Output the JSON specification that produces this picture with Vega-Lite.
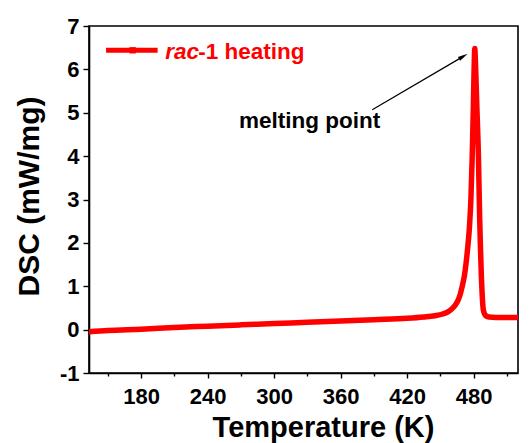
{
  "$schema": "https://vega.github.io/schema/vega-lite/v6.json",
  "width": 429,
  "height": 347,
  "autosize": {"type": "none"},
  "padding": {"left": 89, "top": 26, "right": 13, "bottom": 70},
  "background": "white",
  "config": {
    "font": "Liberation Sans",
    "view": {"stroke": "black", "strokeWidth": 1.6},
    "axis": {
      "domainColor": "black", "domainWidth": 1.6, "tickColor": "black", "tickWidth": 1.4,
      "labelFont": "Liberation Sans", "labelFontWeight": "bold", "labelColor": "black",
      "titleFont": "Liberation Sans", "titleFontWeight": "bold", "titleColor": "black",
      "grid": false
    }
  },
  "data": {
    "values": [
      {"T": 133, "DSC": -0.05}, {"T": 150, "DSC": -0.02}, {"T": 180, "DSC": 0.01},
      {"T": 210, "DSC": 0.05}, {"T": 240, "DSC": 0.08}, {"T": 270, "DSC": 0.11},
      {"T": 300, "DSC": 0.14}, {"T": 330, "DSC": 0.17}, {"T": 360, "DSC": 0.2},
      {"T": 390, "DSC": 0.23}, {"T": 420, "DSC": 0.26}, {"T": 435, "DSC": 0.29},
      {"T": 445, "DSC": 0.32}, {"T": 452, "DSC": 0.36}, {"T": 458, "DSC": 0.43},
      {"T": 462, "DSC": 0.52}, {"T": 465, "DSC": 0.63}, {"T": 467.5, "DSC": 0.78},
      {"T": 469.5, "DSC": 0.98}, {"T": 471.7, "DSC": 1.25}, {"T": 474.4, "DSC": 1.83},
      {"T": 476.3, "DSC": 2.4}, {"T": 477.5, "DSC": 3.0}, {"T": 478.6, "DSC": 3.9},
      {"T": 479.6, "DSC": 5.0}, {"T": 480.4, "DSC": 6.0}, {"T": 481, "DSC": 6.48},
      {"T": 481.7, "DSC": 6.1}, {"T": 482.8, "DSC": 5.2}, {"T": 484.3, "DSC": 4.0},
      {"T": 485.4, "DSC": 2.6}, {"T": 486.2, "DSC": 1.83}, {"T": 487.0, "DSC": 1.2},
      {"T": 487.7, "DSC": 0.8}, {"T": 488.5, "DSC": 0.5}, {"T": 489.5, "DSC": 0.38},
      {"T": 491, "DSC": 0.32}, {"T": 494, "DSC": 0.29}, {"T": 500, "DSC": 0.28},
      {"T": 520, "DSC": 0.28}
    ]
  },
  "layer": [
    {
      "mark": {"type": "line", "color": "#ff0000", "strokeWidth": 5.5, "interpolate": "monotone", "clip": true},
      "encoding": {
        "x": {
          "field": "T", "type": "quantitative",
          "scale": {"domain": [133, 520], "nice": false, "zero": false},
          "axis": {
            "title": "Temperature (K)", "titleFontSize": 29,
            "titleX": 234, "titleY": 63, "titleBaseline": "alphabetic", "titleAlign": "center",
            "values": [150, 180, 210, 240, 270, 300, 330, 360, 390, 420, 450, 480, 510],
            "tickCount": 30,
            "labelExpr": "datum.value % 60 == 0 ? '' + datum.value : ''",
            "labelOverlap": false,
            "labelFontSize": 22, "labelPadding": 8,
            "tickSize": {"condition": {"test": "datum.value % 60 == 0", "value": 5}, "value": 3}
          }
        },
        "y": {
          "field": "DSC", "type": "quantitative",
          "scale": {"domain": [-1, 7], "nice": false, "zero": false},
          "axis": {
            "title": "DSC (mW/mg)", "titleFontSize": 30,
            "titleX": -45, "titleY": 170, "titleAngle": 270, "titleBaseline": "bottom", "titleAlign": "center",
            "values": [-1, 0, 1, 2, 3, 4, 5, 6, 7],
            "tickCount": 20,
            "labelExpr": "'' + datum.value",
            "labelOverlap": false,
            "labelFontSize": 22, "labelPadding": 4, "tickSize": 6
          }
        }
      }
    },
    {
      "data": {"values": [{}]},
      "mark": {"type": "rule", "color": "#ff0000", "strokeWidth": 5},
      "encoding": {
        "x": {"datum": 148.4, "type": "quantitative"},
        "x2": {"datum": 194.9},
        "y": {"datum": 6.44, "type": "quantitative"}
      }
    },
    {
      "data": {"values": [{}]},
      "mark": {"type": "point", "shape": "square", "filled": true, "color": "#ff0000", "size": 40, "opacity": 1},
      "encoding": {
        "x": {"datum": 172.4, "type": "quantitative"},
        "y": {"datum": 6.44, "type": "quantitative"}
      }
    },
    {
      "data": {"values": [{}]},
      "mark": {"type": "text", "color": "#ff0000", "font": "Liberation Sans", "fontWeight": "bold", "fontStyle": "italic", "fontSize": 22.5, "align": "left", "baseline": "alphabetic"},
      "encoding": {
        "x": {"datum": 201.8, "type": "quantitative"},
        "y": {"datum": 6.25, "type": "quantitative"},
        "text": {"value": "rac"}
      }
    },
    {
      "data": {"values": [{}]},
      "mark": {"type": "text", "color": "#ff0000", "font": "Liberation Sans", "fontWeight": "bold", "fontSize": 22.5, "align": "left", "baseline": "alphabetic"},
      "encoding": {
        "x": {"datum": 231.5, "type": "quantitative"},
        "y": {"datum": 6.25, "type": "quantitative"},
        "text": {"value": "-1 heating"}
      }
    },
    {
      "data": {"values": [{}]},
      "mark": {"type": "text", "color": "black", "font": "Liberation Sans", "fontWeight": "bold", "fontSize": 22.5, "align": "center", "baseline": "alphabetic"},
      "encoding": {
        "x": {"datum": 332.1, "type": "quantitative"},
        "y": {"datum": 4.65, "type": "quantitative"},
        "text": {"value": "melting point"}
      }
    },
    {
      "data": {"values": [{}]},
      "mark": {"type": "rule", "color": "black", "strokeWidth": 1.2},
      "encoding": {
        "x": {"datum": 388.5, "type": "quantitative"},
        "x2": {"datum": 470.7},
        "y": {"datum": 5.07, "type": "quantitative"},
        "y2": {"datum": 6.30}
      }
    },
    {
      "data": {"values": [{}]},
      "mark": {"type": "point", "shape": "M0,-1L-0.45,1L0.45,1Z", "filled": true, "color": "black", "size": 100, "opacity": 1, "angle": 59.6},
      "encoding": {
        "x": {"datum": 470.7, "type": "quantitative"},
        "y": {"datum": 6.30, "type": "quantitative"}
      }
    }
  ]
}
